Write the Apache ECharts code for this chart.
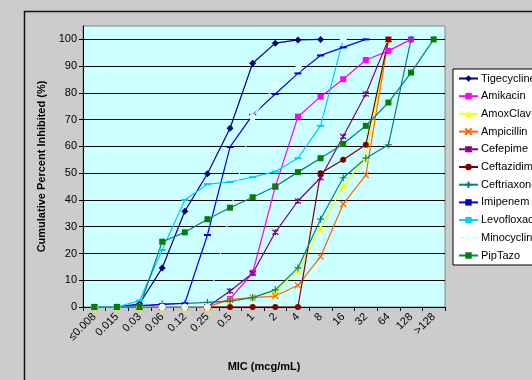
<!DOCTYPE html>
<html>
<head>
<meta charset="utf-8">
<script src="https://cdn.jsdelivr.net/npm/echarts@6/dist/echarts.min.js"></script>
<style>html,body{margin:0;padding:0;background:#CCCCCC;}#c{width:532px;height:380px;}</style>
</head>
<body>
<div id="c"></div>
<script>
var categories = ['≤0.008','0.015','0.03','0.06','0.12','0.25','0.5','1','2','4','8','16','32','64','128','>128'];
var yTicks = [0,10,20,30,40,50,60,70,80,90,100];

var tigecycline  = [0,0,1.2,14.6,35.8,49.8,66.8,91.1,98.6,99.8,100];
var amikacin     = [0,0,0,0,0,0,3,12.8,45,71.1,78.6,85.1,92.3,95.7,100];
var amoxClav     = [0,0,0,0,0,0,2.6,3.8,5.8,13.6,29.4,45.2,56,100];
var ampicillin   = [0,0,0,0,0,0,2.8,3.5,4.1,8.1,18.8,38.5,49.3,100];
var cefepime     = [0,0,0,0,0,0,6,12.6,27.9,39.6,48.3,63.7,79.6,100];
var ceftazidime  = [0,0,0,0,0,0,0,0,0,0,50,55,60.6,100];
var ceftriaxone  = [0,0,0,1.1,1.3,1.7,2.2,3.5,6.4,14.6,32.8,48.3,55.6,60.6,100];
var imipenem     = [0,0,0.5,1,1.4,26.9,59.8,71.8,79.6,87.3,94,97,100];
var levofloxacin = [0,0,2.4,21.3,40,45.9,46.7,48.5,50.6,55.6,67.7,100];
var minocycline  = [0,0,0,0,0,0,35,71,83,89,96,100];
var pipTazo      = [0,0,0,24.4,27.9,32.8,37.1,41,45,50.4,55.6,60.9,67.7,76.4,87.6,100];

var X = 'path://M0,0L10,10M10,0L0,10';
var STAR = 'path://M0,0L10,10M10,0L0,10M5,-1L5,11';
var PLUS = 'path://M5,0L5,10M0,5L10,5';
var DASH = 'path://M0,0L10,0L10,2L0,2Z';

function mk(name, data, lineColor, symbol, size, mColor, mBorder, bw) {
  return {
    name: name, type: 'line', data: data,
    symbol: symbol, symbolSize: size,
    lineStyle: {color: lineColor, width: 1.2},
    itemStyle: {color: mColor, borderColor: mBorder, borderWidth: bw},
    emphasis: {disabled: true}
  };
}

var series = [
  mk('Tigecycline', tigecycline, '#000080', 'diamond', 7, '#000080', '#000080', 0),
  mk('Amikacin', amikacin, '#FF00FF', 'rect', 6, '#FF00FF', '#FF00FF', 0),
  mk('AmoxClav', amoxClav, '#FFFF00', 'triangle', 7, '#FFFF00', '#FFFF00', 0),
  mk('Ampicillin', ampicillin, '#FF6600', X, 6, '#FF6600', '#FF6600', 1.2),
  mk('Cefepime', cefepime, '#800080', STAR, 6, '#800080', '#800080', 1.2),
  mk('Ceftazidime', ceftazidime, '#800000', 'circle', 6, '#800000', '#800000', 0),
  mk('Ceftriaxone', ceftriaxone, '#008080', PLUS, 7, '#008080', '#008080', 1.2),
  mk('Imipenem', imipenem, '#0000FF', DASH, [7,2], '#0000CC', '#0000CC', 0),
  mk('Levofloxacin', levofloxacin, '#00CCFF', DASH, [7,2], '#00CCFF', '#00CCFF', 0),
  mk('Minocycline', minocycline, '#CCFFFF', 'circle', 6, '#DDFFFF', '#F4FFFF', 1),
  mk('PipTazo', pipTazo, '#008080', 'rect', 6, '#008000', '#008000', 0)
];

var chart = echarts.init(document.getElementById('c'), null, {renderer: 'canvas'});
chart.setOption({
  animation: false,
  backgroundColor: '#CCCCCC',
  textStyle: {fontFamily: 'Liberation Sans, Arial, sans-serif'},
  graphic: [{
    type: 'rect', left: 22, top: 9, z: -10, silent: true,
    shape: {width: 620, height: 420},
    style: {fill: 'none', stroke: '#111', lineWidth: 1.5}
  }],
  grid: {
    left: 83, right: 87, top: 26, bottom: 73,
    show: true, backgroundColor: '#CCFFFF', borderColor: '#888888', borderWidth: 1
  },
  legend: {
    orient: 'vertical', left: 453, top: 69,
    padding: [4, 40, 4, 5],
    itemWidth: 19, itemHeight: 8, itemGap: 6.7,
    backgroundColor: '#FFFFFF', borderColor: '#000000', borderWidth: 1,
    textStyle: {fontSize: 11, color: '#000', fontFamily: 'Liberation Sans, Arial, sans-serif', padding: [0,0,0,-2]},
    data: series.map(function (s) { return s.name; })
  },
  xAxis: {
    type: 'category', data: categories, boundaryGap: true,
    name: 'MIC (mcg/mL)', nameLocation: 'middle', nameGap: 54,
    nameTextStyle: {fontSize: 11, fontWeight: 'bold', color: '#000'},
    axisLine: {lineStyle: {color: '#000', width: 1}},
    axisTick: {show: true, interval: 0, length: 4, lineStyle: {color: '#000'}},
    axisLabel: {interval: 0, rotate: 45, fontSize: 11, color: '#000', margin: 8},
    splitLine: {show: false}
  },
  yAxis: {
    type: 'value', min: 0, max: 105, interval: 10,
    name: 'Cumulative Percent Inhibited (%)', nameLocation: 'middle', nameGap: 34,
    nameTextStyle: {fontSize: 11, fontWeight: 'bold', color: '#000'},
    axisLine: {show: true, lineStyle: {color: '#000', width: 1}},
    axisTick: {show: true, length: 4, lineStyle: {color: '#000'}, customValues: yTicks},
    axisLabel: {fontSize: 11, color: '#000', margin: 6, customValues: yTicks},
    splitLine: {show: true, lineStyle: {color: '#000', width: 1}}
  },
  series: series
});
</script>
</body>
</html>
